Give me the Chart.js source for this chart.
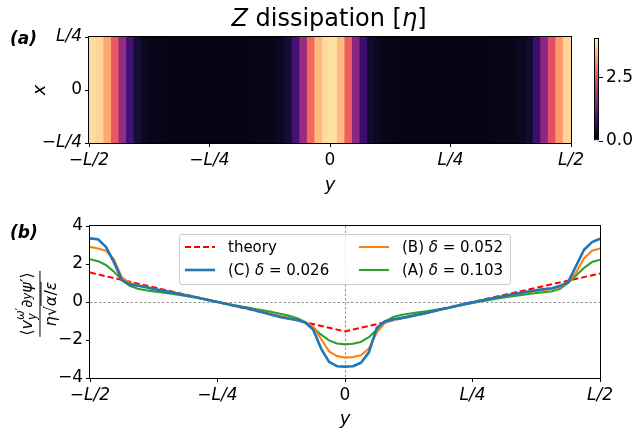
<!DOCTYPE html>
<html>
<head>
<meta charset="utf-8">
<script src="https://cdn.jsdelivr.net/npm/chart.js@4.4.1/dist/chart.umd.min.js"></script>
<style>
  body { margin: 0; width: 644px; height: 430px; position: relative; overflow: hidden; background: #fff;
         font-family: 'DejaVu Sans', sans-serif; color: #000; }
  canvas { position: absolute; }
  #heat { left: 0; top: 0; }
  #cbar { left: 560px; top: 0; }
  #prof { left: 0; top: 200px; }
  .panel { position: absolute; font-weight: bold; font-style: italic; font-size: 17px; line-height: 1; }
  #title { position: absolute; left: 329px; top: 18px; transform: translate(-50%, -50%); font-size: 24px; white-space: nowrap; }
  #legend { position: absolute; left: 179px; top: 234px; width: 332px; height: 51px; box-sizing: border-box;
            border: 1px solid #ccc; border-radius: 3px; background: rgba(255,255,255,0.8); }
  .item { position: absolute; height: 20px; display: flex; align-items: center; font-size: 15px; white-space: nowrap; }
  .item svg { margin-right: 13px; }
  #ylab { position: absolute; left: 38px; top: 304px; transform: translate(-50%, -50%) rotate(-90deg);
          font-size: 16px; white-space: nowrap; }
  .frac { display: inline-flex; flex-direction: column; align-items: center; }
  .num { border-bottom: 1.5px solid #000; padding: 0 1px 1px; display: flex; align-items: center; }
  .den { padding-top: 1px; }
  .ss { display: inline-flex; flex-direction: column; font-size: 0.72em; line-height: 1; }
  sub { font-size: 0.72em; }
  .ol { border-top: 1px solid #000; }
</style>
</head>
<body>
<canvas id="heat" width="644" height="200"></canvas>
<canvas id="cbar" width="84" height="200"></canvas>
<canvas id="prof" width="644" height="230"></canvas>

<div id="title"><i>Z</i> dissipation [<i>η</i>]</div>
<div class="panel" style="left:10px; top:30px;">(a)</div>
<div class="panel" style="left:10px; top:224px;">(b)</div>

<div id="ylab"><span class="frac"><span class="num">⟨<i>v</i><span class="ss"><span><i>ω</i>′</span><span><i>y</i></span></span>∂<sub><i>y</i></sub><i>ψ</i>′⟩</span><span class="den"><i>η</i>√<span class="ol"><i>α</i>/<i>ε</i></span></span></span></div>

<div id="legend"></div>
<div class="item" style="left:185px; top:237px;"><svg width="30" height="6"><line x1="0" y1="3" x2="30" y2="3" stroke="#ff0000" stroke-width="2" stroke-dasharray="6,3"/></svg>theory</div>
<div class="item" style="left:185px; top:260px;"><svg width="30" height="6"><line x1="0" y1="3" x2="30" y2="3" stroke="#1f77b4" stroke-width="2.6"/></svg>(C) <i>&nbsp;δ</i>&nbsp;=&nbsp;0.026</div>
<div class="item" style="left:359px; top:237px;"><svg width="30" height="6"><line x1="0" y1="3" x2="30" y2="3" stroke="#ff7f0e" stroke-width="2.1"/></svg>(B) <i>&nbsp;δ</i>&nbsp;=&nbsp;0.052</div>
<div class="item" style="left:359px; top:260px;"><svg width="30" height="6"><line x1="0" y1="3" x2="30" y2="3" stroke="#2ca02c" stroke-width="2.1"/></svg>(A) <i>&nbsp;δ</i>&nbsp;=&nbsp;0.103</div>

<script>
// position along y in units of L, tick labels
const yTicks = [-0.5, -0.25, 0, 0.25, 0.5];
const yTickLabels = ['−L/2', '−L/4', '0', 'L/4', 'L/2'];
const xTicks = [-0.25, 0, 0.25];
const xTickLabels = ['−L/4', '0', 'L/4'];

// panel (a): Z dissipation per grid column (64 columns across L)
const dissipation = [
  3.75, 3.7, 3.3, 2.6, 1.7, 0.9, 0.4, 0.22, 0.17, 0.15, 0.14, 0.13, 0.13, 0.12, 0.12, 0.12,
  0.12, 0.12, 0.12, 0.13, 0.13, 0.14, 0.15, 0.17, 0.2, 0.26, 0.4, 0.9, 1.7, 2.75, 3.45, 3.75,
  3.8, 3.45, 2.65, 1.6, 0.8, 0.35, 0.22, 0.17, 0.15, 0.14, 0.13, 0.13, 0.12, 0.12, 0.12, 0.12,
  0.12, 0.12, 0.12, 0.13, 0.13, 0.14, 0.15, 0.16, 0.18, 0.22, 0.35, 0.8, 1.6, 2.5, 3.2, 3.7
];
const vmax = 4.05;
const cbarTicks = [0, 2.5];

// panel (b): normalised flux, 65 samples from -L/2 to L/2
const fluxC = [
  3.35, 3.3, 2.9, 2.1, 1.15, 0.93, 0.86, 0.78, 0.68, 0.6, 0.52, 0.44, 0.36, 0.28, 0.18, 0.09,
  0.0, -0.09, -0.18, -0.27, -0.36, -0.47, -0.58, -0.7, -0.8, -0.88, -0.95, -1.08, -1.45, -2.45, -3.15, -3.38,
  -3.4, -3.38, -3.2, -2.65, -1.35, -1.02, -0.92, -0.85, -0.77, -0.68, -0.6, -0.5, -0.4, -0.3, -0.2, -0.1,
  -0.02, 0.07, 0.16, 0.24, 0.32, 0.4, 0.48, 0.55, 0.62, 0.68, 0.72, 0.85, 1.05, 1.9, 2.75, 3.15,
  3.33
];
const fluxB = [
  2.9, 2.82, 2.7, 2.25, 1.3, 1.0, 0.9, 0.8, 0.7, 0.62, 0.54, 0.46, 0.37, 0.28, 0.19, 0.1,
  0.01, -0.08, -0.17, -0.26, -0.35, -0.45, -0.55, -0.65, -0.75, -0.84, -0.93, -1.05, -1.3, -1.95, -2.6, -2.85,
  -2.92, -2.9, -2.8, -2.45, -1.6, -1.1, -0.95, -0.85, -0.77, -0.69, -0.6, -0.51, -0.41, -0.32, -0.22, -0.12,
  -0.03, 0.06, 0.14, 0.22, 0.3, 0.38, 0.45, 0.52, 0.58, 0.64, 0.7, 0.8, 1.05, 1.55, 2.3, 2.7,
  2.82
];
const fluxA = [
  2.25, 2.15, 1.95, 1.6, 1.15, 0.85, 0.7, 0.62, 0.56, 0.5, 0.45, 0.39, 0.32, 0.25, 0.17, 0.08,
  0.0, -0.08, -0.16, -0.24, -0.31, -0.39, -0.46, -0.54, -0.63, -0.73, -0.85, -1.05, -1.35, -1.72, -2.02, -2.18,
  -2.23, -2.2, -2.1, -1.85, -1.45, -1.05, -0.8, -0.68, -0.62, -0.56, -0.5, -0.44, -0.37, -0.3, -0.22, -0.14,
  -0.05, 0.03, 0.1, 0.17, 0.24, 0.3, 0.36, 0.42, 0.47, 0.52, 0.57, 0.7, 1.0, 1.4, 1.8, 2.1,
  2.23
];
const theoryY = [-0.5, -0.25, 0, 0.25, 0.5];
const theoryVal = [1.55, 0, -1.55, 0, 1.5];

const nCols = dissipation.length;
const yCells = dissipation.map((_, i) => -0.5 + (i + 0.5) / nCols);
const yGrid = fluxC.map((_, i) => -0.5 + i / (fluxC.length - 1));

// magma colormap stops at 0, 0.1, ... 1
const magmaStops = ['#000004', '#140e36', '#3b0f70', '#641a80', '#8c2981', '#b73779',
                    '#de4968', '#f7705c', '#fe9f6d', '#fecf92', '#fcfdbf'];
function hexRgb(h) { return [1, 3, 5].map(k => parseInt(h.slice(k, k + 2), 16)); }
function magma(t) {
  t = Math.max(0, Math.min(1, t));
  const p = t * 10, i = Math.min(9, Math.floor(p)), f = p - i;
  const a = hexRgb(magmaStops[i]), b = hexRgb(magmaStops[i + 1]);
  const c = a.map((v, k) => Math.round(v + (b[k] - v) * f));
  return `rgb(${c[0]},${c[1]},${c[2]})`;
}

Chart.defaults.font.family = "'DejaVu Sans', sans-serif";
Chart.defaults.color = '#000';

const tickFont = ctx => ({ size: 17, style: ctx.tick && ctx.tick.value !== 0 ? 'italic' : 'normal' });

const framePlugin = {
  id: 'frame',
  afterDatasetsDraw(chart) {
    const { ctx, chartArea: a } = chart;
    ctx.save();
    ctx.strokeStyle = '#000';
    ctx.lineWidth = 1;
    ctx.strokeRect(a.left - 0.5, a.top - 0.5, a.width + 1, a.height + 1);
    ctx.restore();
  }
};

const zeroLines = {
  id: 'zeroLines',
  beforeDatasetsDraw(chart) {
    const { ctx, chartArea: a, scales } = chart;
    const x0 = Math.round(scales.x.getPixelForValue(0)) + 0.5;
    const y0 = Math.round(scales.y.getPixelForValue(0)) + 0.5;
    ctx.save();
    ctx.strokeStyle = '#777';
    ctx.lineWidth = 0.8;
    ctx.setLineDash([2.5, 2]);
    ctx.beginPath();
    ctx.moveTo(a.left, y0); ctx.lineTo(a.right, y0);
    ctx.moveTo(x0, a.top); ctx.lineTo(x0, a.bottom);
    ctx.stroke();
    ctx.restore();
  }
};

const baseOpts = {
  responsive: false,
  animation: false,
  devicePixelRatio: 1,
  plugins: { legend: { display: false }, tooltip: { enabled: false } }
};

const tickGrid = { drawOnChartArea: false, drawTicks: true, tickLength: 4, color: '#000', offset: false };

// (a) heatmap
new Chart(document.getElementById('heat'), {
  type: 'bar',
  data: {
    datasets: [{
      data: yCells.map(y => ({ x: y, y: [-0.25, 0.25] })),
      backgroundColor: dissipation.map(v => magma(v / vmax)),
      borderWidth: 0,
      barPercentage: 1,
      categoryPercentage: 1,
      inflateAmount: 0.6
    }]
  },
  options: {
    ...baseOpts,
    layout: { padding: { top: 37, right: 73, left: 0, bottom: 0 } },
    scales: {
      x: {
        type: 'linear', min: -0.5, max: 0.5, offset: false,
        afterBuildTicks: s => { s.ticks = yTicks.map(v => ({ value: v })); },
        ticks: { callback: (v, i) => yTickLabels[i], font: tickFont, maxRotation: 0, padding: 3 },
        grid: tickGrid, border: { display: false },
        title: { display: true, text: 'y', font: { size: 18, style: 'italic' }, padding: { top: 0, bottom: 4 } },
        afterFit: s => { s.height = 57; }
      },
      y: {
        type: 'linear', min: -0.25, max: 0.25,
        afterBuildTicks: s => { s.ticks = xTicks.map(v => ({ value: v })); },
        ticks: { callback: (v, i) => xTickLabels[i], font: tickFont, padding: 3 },
        grid: tickGrid, border: { display: false },
        title: { display: true, text: 'x', font: { size: 18, style: 'italic' }, padding: { top: 30, bottom: 0 } },
        afterFit: s => { s.width = 89; }
      }
    }
  },
  plugins: [framePlugin]
});

// (a) colorbar
new Chart(document.getElementById('cbar'), {
  type: 'bar',
  data: {
    labels: [''],
    datasets: [{
      data: [[0, vmax]],
      backgroundColor: ctx => {
        const a = ctx.chart.chartArea;
        if (!a) return '#000';
        const g = ctx.chart.ctx.createLinearGradient(0, a.bottom, 0, a.top);
        magmaStops.forEach((c, k) => g.addColorStop(k / 10, c));
        return g;
      },
      borderColor: '#000',
      borderWidth: 1,
      borderSkipped: false,
      barPercentage: 1,
      categoryPercentage: 1,
      inflateAmount: 0
    }]
  },
  options: {
    ...baseOpts,
    layout: { padding: { top: 38, right: 0, left: 34, bottom: 59 } },
    scales: {
      x: { display: false },
      y: {
        position: 'right', min: 0, max: vmax,
        afterBuildTicks: s => { s.ticks = cbarTicks.map(v => ({ value: v })); },
        ticks: { callback: v => v.toFixed(1), font: { size: 17 }, padding: 3 },
        grid: tickGrid, border: { display: false },
        afterFit: s => { s.width = 45; }
      }
    }
  }
});

// (b) profiles
const toPts = vals => vals.map((v, i) => ({ x: yGrid[i], y: v }));
new Chart(document.getElementById('prof'), {
  type: 'line',
  data: {
    datasets: [
      { label: '(C) δ = 0.026', data: toPts(fluxC), borderColor: '#1f77b4', borderWidth: 2.6 },
      { label: '(B) δ = 0.052', data: toPts(fluxB), borderColor: '#ff7f0e', borderWidth: 2.1 },
      { label: '(A) δ = 0.103', data: toPts(fluxA), borderColor: '#2ca02c', borderWidth: 2.1 },
      { label: 'theory', data: theoryVal.map((v, i) => ({ x: theoryY[i], y: v })),
        borderColor: '#ff0000', borderWidth: 2, borderDash: [6, 3] }
    ]
  },
  options: {
    ...baseOpts,
    layout: { padding: { top: 26, right: 44, left: 0, bottom: 0 } },
    elements: { point: { radius: 0 }, line: { tension: 0, fill: false, borderJoinStyle: 'round' } },
    scales: {
      x: {
        type: 'linear', min: -0.5, max: 0.5,
        afterBuildTicks: s => { s.ticks = yTicks.map(v => ({ value: v })); },
        ticks: { callback: (v, i) => yTickLabels[i], font: tickFont, maxRotation: 0, padding: 3 },
        grid: tickGrid, border: { display: false },
        title: { display: true, text: 'y', font: { size: 18, style: 'italic' }, padding: { top: 0, bottom: 0 } },
        afterFit: s => { s.height = 52; }
      },
      y: {
        type: 'linear', min: -4, max: 4,
        ticks: { stepSize: 2, callback: v => (v < 0 ? '−' + Math.abs(v) : String(v)), font: { size: 17 }, padding: 3 },
        grid: tickGrid, border: { display: false },
        afterFit: s => { s.width = 90; }
      }
    }
  },
  plugins: [zeroLines, framePlugin]
});
</script>
</body>
</html>
